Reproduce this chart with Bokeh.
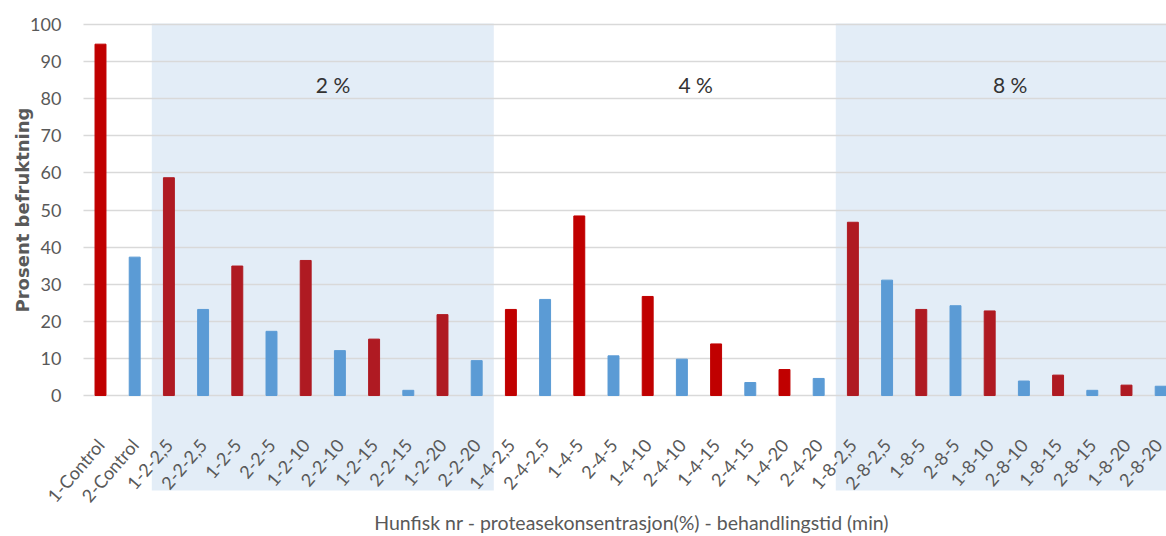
import math
from bokeh.plotting import figure
from bokeh.models import Range1d, FixedTicker, BoxAnnotation, ColumnDataSource, Label
from bokeh.embed import file_html
from bokeh.resources import INLINE

categories = ["1-Control", "2-Control",
              "1-2-2,5", "2-2-2,5", "1-2-5", "2-2-5", "1-2-10", "2-2-10", "1-2-15", "2-2-15", "1-2-20", "2-2-20",
              "1-4-2,5", "2-4-2,5", "1-4-5", "2-4-5", "1-4-10", "2-4-10", "1-4-15", "2-4-15", "1-4-20", "2-4-20",
              "1-8-2,5", "2-8-2,5", "1-8-5", "2-8-5", "1-8-10", "2-8-10", "1-8-15", "2-8-15", "1-8-20", "2-8-20"]
values = [94.7, 37.3,
          58.7, 23.2, 34.9, 17.3, 36.4, 12.1, 15.2, 1.4, 21.8, 9.4,
          23.2, 25.9, 48.4, 10.7, 26.7, 9.8, 13.9, 3.5, 7.0, 4.6,
          46.7, 31.1, 23.2, 24.2, 22.8, 3.9, 5.5, 1.4, 2.8, 2.5]
group_labels = ["2 %", "4 %", "8 %"]
y_ticks = [0, 10, 20, 30, 40, 50, 60, 70, 80, 90, 100]
x_title = "Hunfisk nr - proteasekonsentrasjon(%) - behandlingstid (min)"
y_title = "Prosent befruktning"

RED = "#C00000"
RED_SHADED = "#AF1A22"
BLUE = "#5B9BD5"
BAND = "#E3EDF7"
GRID = "#D9D9D9"
TXT = "#595959"

xs = list(range(len(categories)))
colors = []
for c in categories:
    parts = c.split("-")
    shaded = len(parts) > 2 and parts[1] in ("2", "8")
    if parts[0] == "1":
        colors.append(RED_SHADED if shaded else RED)
    else:
        colors.append(BLUE)

src = ColumnDataSource(dict(x=xs, top=values, color=colors, cat=categories))

X0, X1 = -0.5, 31.17       # visible category span of the plotting area
p = figure(width=1166, height=536, output_backend="svg", toolbar_location=None,
           x_range=Range1d(-2.924, 31.17), y_range=Range1d(-38.0, 106.47))
p.min_border_left = 0
p.min_border_right = 0
p.min_border_top = 0
p.min_border_bottom = 0
p.outline_line_color = None
p.background_fill_color = "white"
p.border_fill_color = "white"

# shaded concentration bands (2 % and 8 %), extending down through the labels
for l, r in [(1.5, 11.5), (21.5, 31.5)]:
    p.add_layout(BoxAnnotation(left=l, right=r, top=100.27, bottom=-25.6, fill_color=BAND,
                               fill_alpha=1.0, line_color=None, level="image"))

p.vbar(x="x", top="top", width=0.32, color="color", source=src)

for t, gx in zip(group_labels, [6.8, 17.4, 26.6]):
    p.add_layout(Label(x=gx, y=83.8, text=t, text_align="center", text_baseline="middle",
                       text_font="Lato", text_font_size="21px", text_color="#333333"))

p.ygrid.ticker = FixedTicker(ticks=y_ticks)
p.ygrid.grid_line_color = GRID
p.ygrid.grid_line_width = 1.5
p.ygrid.cross_bounds = (X0, X1)
p.xgrid.grid_line_color = None

p.yaxis.fixed_location = X0
p.yaxis.ticker = FixedTicker(ticks=y_ticks)
p.yaxis.axis_line_color = None
p.yaxis.major_tick_line_color = None
p.yaxis.minor_tick_line_color = None
p.yaxis.major_label_text_font = "Lato"
p.yaxis.major_label_text_font_size = "18px"
p.yaxis.major_label_text_color = TXT
p.yaxis.major_label_standoff = 16

p.xaxis.fixed_location = 0
p.xaxis.ticker = FixedTicker(ticks=xs)
p.xaxis.major_label_overrides = {i: c for i, c in zip(xs, categories)}
p.xaxis.major_label_orientation = 0.86
p.xaxis.axis_line_color = None
p.xaxis.major_tick_line_color = None
p.xaxis.minor_tick_line_color = None
p.xaxis.major_label_text_font = "Lato"
p.xaxis.major_label_text_font_size = "18px"
p.xaxis.major_label_text_color = TXT
p.xaxis.major_label_standoff = 40

p.add_layout(Label(x=-2.28, y=50.0, text=y_title, angle=math.pi / 2, text_align="center",
                   text_baseline="middle", text_font="DejaVu Sans", text_font_style="bold",
                   text_font_size="18px", text_color=TXT))
p.add_layout(Label(x=15.53, y=-34.2, text=x_title, text_align="center", text_baseline="middle",
                   text_font="Lato", text_font_size="19.5px", text_color=TXT))

open("out.html", "w").write(file_html(p, INLINE))
